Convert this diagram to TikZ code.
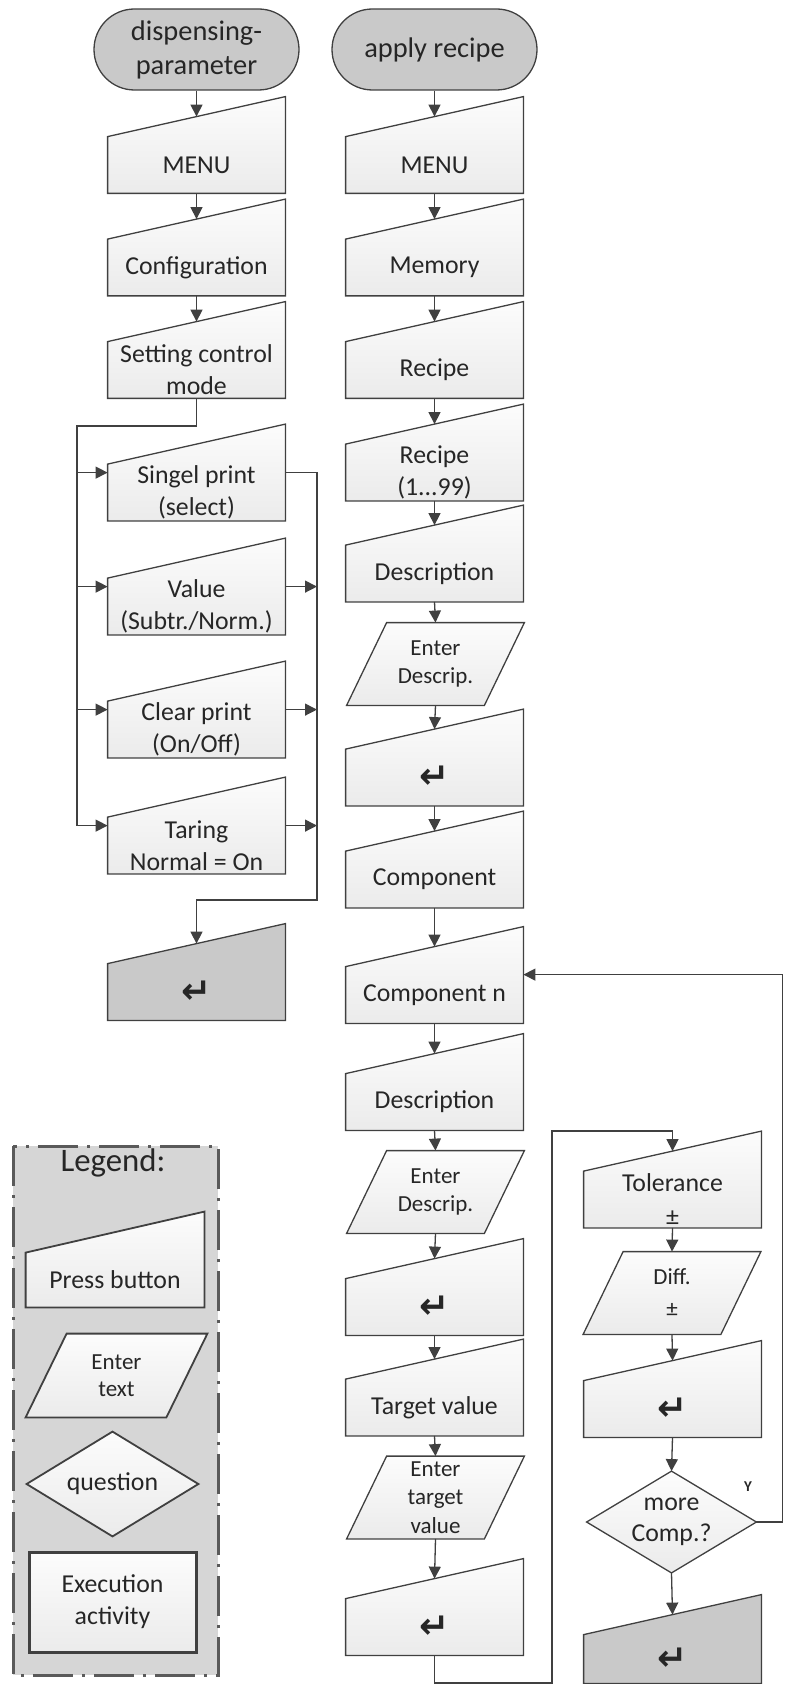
\documentclass[tikz,border=0pt]{standalone}
\usepackage{fontspec}
\setmainfont{Carlito}
\newfontfamily\retfont{DejaVu Sans}
\usetikzlibrary{shapes,positioning,arrows.meta,calc,fit,backgrounds}

\definecolor{linec}{HTML}{404040}
\definecolor{boxtop}{HTML}{FCFCFC}
\definecolor{boxbot}{HTML}{EBEBEB}
\definecolor{darkfill}{HTML}{C9C9C9}
\definecolor{legfill}{HTML}{D6D6D6}
\definecolor{legline}{HTML}{5A5A5A}

\newcommand{\enterkey}{{\retfont\bfseries\fontsize{18}{18}\selectfont ↵}}

\begin{document}
\begin{tikzpicture} [
					x=0.5pt, y=-0.5pt,
					every node/.style={font=\fontsize{12.9}{16}\selectfont,align=center,inner sep=0pt,text=black!85},
					press/.style={rectangle,minimum width=88.5pt,minimum height=28pt},
					entry/.style={rectangle,minimum width=88.5pt,minimum height=41pt,font=\fontsize{11.5}{14.3}\selectfont},
					quest/.style={rectangle,minimum width=84.5pt,minimum height=50.5pt,font=\fontsize{12.9}{15.5}\selectfont},
					term/.style={rounded rectangle,draw=linec,line width=0.65pt,fill=darkfill,minimum width=102.5pt,minimum height=40.5pt,font=\fontsize{14.2}{17}\selectfont},
					exec/.style={rectangle,draw=linec,line width=1.5pt,top color=boxtop,bottom color=boxbot,minimum width=83.5pt,minimum height=50pt},
					boxline/.style={draw=linec,line width=0.65pt},
					legline/.style={draw=linec,line width=0.9pt},
					light/.style={top color=boxtop,bottom color=boxbot},
					dark/.style={fill=darkfill},
					wire/.style={draw=linec,line width=0.65pt},
					arr/.style={wire,-{Triangle[length=6pt,width=6pt]}},
				]
				\useasboundingbox (0,0) rectangle (784,1684);

				% dispensing parameter
				\node[term] (t1) at (196.5,49.5) {dispensing-\\parameter};
				\node[press] (mnuA) at (196.5,165) {MENU};
				\node[press] (cfg) at (196.5,267.5) {Configuration};
				\node[press] (setm) at (196.5,370) {Setting control\\mode};
				\node[press] (sgl) at (196.5,492.5) {Singel print\\(select)};
				\node[press] (val) at (196.5,606.5) {Value\\(Subtr./Norm.)};
				\node[press] (clr) at (196.5,729.5) {Clear print\\(On/Off)};
				\node[press] (tar) at (196.5,845.5) {Taring\\Normal = On};
				\node[press] (entA) at (196.5,992) {\enterkey};

				% apply recipe
				\node[term] (t2) at (434.5,49.5) {apply recipe};
				\node[press] (mnuB) at (434.5,165) {MENU};
				\node[press] (mem) at (434.5,267.5) {Memory};
				\node[press] (rcp) at (434.5,370) {Recipe};
				\node[press] (rcpn) at (434.5,472.5) {Recipe\\(1...99)};
				\node[press] (dscA) at (434.5,573.5) {Description};
				\node[entry] (edA) at (435.5,664) {Enter\\Descrip.};
				\node[press] (entB) at (434.5,777.5) {\enterkey};
				\node[press] (cmp) at (434.5,879.5) {Component};
				\node[press] (cmpn) at (434.5,995) {Component n};
				\node[press] (dscB) at (434.5,1102) {Description};
				\node[entry] (edB) at (435.5,1192) {Enter\\Descrip.};
				\node[press] (entC) at (434.5,1307) {\enterkey};
				\node[press] (tgt) at (434.5,1407.5) {Target value};
				\node[entry] (edT) at (435.5,1497.5) {Enter\\target\\value};
				\node[press] (entD) at (434.5,1627) {\enterkey};

				\node[press,font=\fontsize{12.9}{17}\selectfont] (tol) at (672.5,1199.5) {Tolerance\\±};
				\node[entry,font=\fontsize{11.5}{16}\selectfont] (dif) at (672,1293) {Diff.\\±};
				\node[press] (entE) at (672.5,1409) {\enterkey};
				\node[quest] (more) at (671.5,1522) {more\\Comp.?};
				\node[press,minimum height=24pt] (entF) at (672.5,1659) {\enterkey};
				\node[font=\bfseries\fontsize{7.5}{9}\selectfont] (yes) at (748,1487) {Y};

				% legend
				\node[font=\fontsize{16.4}{18}\selectfont] (leg) at (113,1163) {Legend:};
				\node[press,minimum width=89pt,minimum height=27pt] (lprs) at (115,1280) {Press button};
				\node[entry,minimum width=90.5pt,minimum height=41.5pt,font=\fontsize{11.5}{13.5}\selectfont] (ltxt) at (116.5,1375.5) {Enter\\text};
				\node[quest,minimum width=85.5pt,minimum height=52pt] (lqst) at (112.5,1484) {question};
				\node[exec] (lexe) at (112.5,1602) {Execution\\activity};

				\begin{pgfonlayer}{background}
					\draw[line width=1.5pt,draw=legline,dash pattern=on 20pt off 4.5pt on 1.5pt off 4.5pt,fill=legfill] (13,1146) rectangle (218,1675);
					\foreach \n/\s in {mnuA/light,cfg/light,setm/light,sgl/light,val/light,clr/light,tar/light,entA/dark,
						mnuB/light,mem/light,rcp/light,rcpn/light,dscA/light,entB/light,cmp/light,cmpn/light,dscB/light,
						entC/light,tgt/light,entD/light,tol/light,entE/light,entF/dark}
						\path[boxline,\s] (\n.south west) -- (\n.south east) -- ([yshift=20pt]\n.north east) -- (\n.north west) -- cycle;
					\foreach \n in {edA,edB,edT,dif}
						\path[boxline,light] (\n.south west) -- ([xshift=-20pt]\n.south east) -- (\n.north east) -- ([xshift=20pt]\n.north west) -- cycle;
					\path[boxline,light] (more.west) -- (more.north) -- (more.east) -- (more.south) -- cycle;
					% legend shapes
					\path[legline,light] (lprs.south west) -- (lprs.south east) -- ([yshift=20.5pt]lprs.north east) -- (lprs.north west) -- cycle;
					\path[legline,light] (ltxt.south west) -- ([xshift=-20.5pt]ltxt.south east) -- (ltxt.north east) -- ([xshift=20.5pt]ltxt.north west) -- cycle;
					\path[legline,light] (lqst.west) -- (lqst.north) -- (lqst.east) -- (lqst.south) -- cycle;
				\end{pgfonlayer}

				% straight flow
				\foreach \a/\b in {t1/mnuA,mnuA/cfg,cfg/setm,t2/mnuB,mnuB/mem,mem/rcp,rcp/rcpn,rcpn/dscA,edA/entB,entB/cmp,
					cmp/cmpn,cmpn/dscB,edB/entC,entC/tgt,edT/entD,dif/entE,more/entF}
					\draw[arr] (\a.south) -- ([yshift=10pt]\b.north);
				\foreach \a/\b in {dscA/edA,dscB/edB,tgt/edT,tol/dif,entE/more}
					\draw[arr] (\a.south) -- (\b.north);

				% control mode bus
				\coordinate (splitL) at (77,426);
				\coordinate (joinR) at (317,900);
				\foreach \n in {sgl,val,clr,tar} {
					\coordinate (\n-in) at ([yshift=-4.25pt]\n.north west);
					\coordinate (\n-out) at ([yshift=-4.25pt]\n.north east);
				}
				\draw[wire] (setm.south) |- (splitL) -- (splitL |- tar-in);
				\foreach \n in {sgl,val,clr,tar}
					\draw[arr] (splitL |- \n-in) -- (\n-in);
				\draw[arr] (sgl-out) -| (joinR) -| ([yshift=10pt]entA.north);
				\foreach \n in {val,clr,tar}
					\draw[arr] (\n-out) -- (joinR |- \n-out);

				% component loop
				\coordinate (loopB) at (552,1683);
				\coordinate (loopT) at (552,1131);
				\draw[arr] (entD.south) |- (loopB) -- (loopT) -| ([yshift=10pt]tol.north);
				\coordinate (backR) at (782.5,1522);
				\coordinate (cmpn-in) at ([yshift=-4pt]cmpn.north east);
				\draw[arr] (more.east) -- (backR) |- (cmpn-in);

			\end{tikzpicture}
\end{document}
